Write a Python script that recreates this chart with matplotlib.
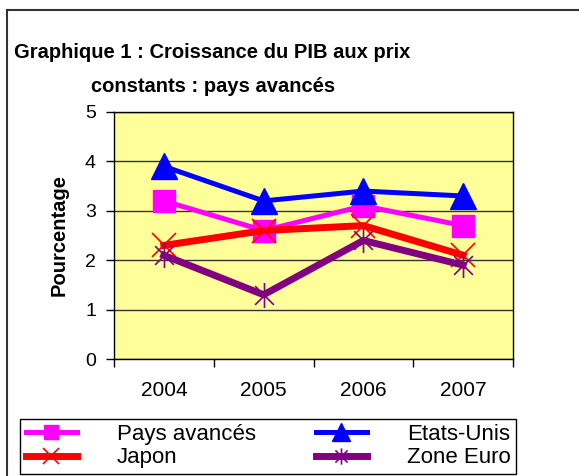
import numpy as np
import matplotlib
matplotlib.use('Agg')
import matplotlib.pyplot as plt
from matplotlib.lines import Line2D
from matplotlib.path import Path

plt.rcParams['font.family'] = ['Liberation Sans', 'DejaVu Sans']

# données
years = ['2004', '2005', '2006', '2007']
pays_avances = [3.2, 2.6, 3.1, 2.7]
etats_unis = [3.9, 3.2, 3.4, 3.3]
japon = [2.3, 2.6, 2.7, 2.1]
zone_euro = [2.1, 1.3, 2.4, 1.9]

x = np.arange(len(years)) + 0.5

# étoile : trait vertical + croix
star = Path([(0, -1), (0, 1), (-0.75, -0.75), (0.75, 0.75), (-0.75, 0.75), (0.75, -0.75)],
            [Path.MOVETO, Path.LINETO] * 3)

fig = plt.figure(figsize=(5.79, 4.76), dpi=100)

# cadre extérieur (bords gauche et haut seulement visibles)
fig.add_artist(Line2D([7/579, 7/579], [0, 1 - 10/476], color='#333333', lw=1.5,
                      transform=fig.transFigure))
fig.add_artist(Line2D([7/579, 1], [1 - 10/476, 1 - 10/476], color='#333333', lw=1.5,
                      transform=fig.transFigure))

ax = fig.add_axes([114/579, 1 - 359/476, 399/579, 247/476])
ax.set_facecolor('#FFFF99')

l1, = ax.plot(x, pays_avances, color='#FF00FF', lw=3.6, marker='s', ms=16,
              label='Pays avancés', zorder=3)
l2, = ax.plot(x, etats_unis, color='#0000FF', lw=3.6, marker='^', ms=19,
              label='Etats-Unis', zorder=4)
l3, = ax.plot(x, japon, color='#FF0000', lw=5, marker='x', ms=17, mew=1.2,
              label='Japon', zorder=3)
l4, = ax.plot(x, zone_euro, color='#800080', lw=5, marker=star, ms=18, mew=1.2,
              mfc='none', label='Zone Euro', zorder=3)

ax.set_xlim(0, 4)
ax.set_ylim(0, 5)
ax.set_yticks([0, 1, 2, 3, 4, 5])
ax.yaxis.grid(True, color='#333333', lw=1)
ax.set_axisbelow(True)

ax.set_xticks([0, 1, 2, 3, 4])
ax.set_xticklabels([])
ax.set_xticks(x, minor=True)
ax.set_xticklabels(years, minor=True)
ax.tick_params(axis='x', which='major', direction='out', length=6, width=1)
ax.tick_params(axis='x', which='minor', length=0, pad=16, labelsize=15)
ax.tick_params(axis='y', direction='out', length=6, width=1, pad=7, labelsize=14)

for s in ax.spines.values():
    s.set_color('black')
    s.set_linewidth(1)

ax.set_ylabel('Pourcentage', fontsize=14.5, fontweight='bold', labelpad=12)

fig.text(212/579, 1 - 58/476, 'Graphique 1 : Croissance du PIB aux prix',
         ha='center', va='baseline', fontsize=14.5, fontweight='bold')
fig.text(213/579, 1 - 92/476, 'constants : pays avancés',
         ha='center', va='baseline', fontsize=14.5, fontweight='bold')

# ordre colonne par colonne -> lignes : Pays avancés / Etats-Unis, Japon / Zone Euro
leg = fig.legend([l1, l3, l2, l4], ['Pays avancés', 'Japon', 'Etats-Unis', 'Zone Euro'],
                 loc='lower left', ncol=2, mode='expand',
                 bbox_to_anchor=(20/579, 2/476, 496/579, 58/476),
                 bbox_transform=fig.transFigure, borderaxespad=0,
                 fontsize=16, handlelength=2.3, handletextpad=1.8,
                 labelspacing=0.1, columnspacing=0.6, borderpad=0.25,
                 markerscale=0.65, fancybox=False, framealpha=1,
                 edgecolor='black')
leg.get_frame().set_linewidth(1)

fig.savefig('out.png', dpi=100)
